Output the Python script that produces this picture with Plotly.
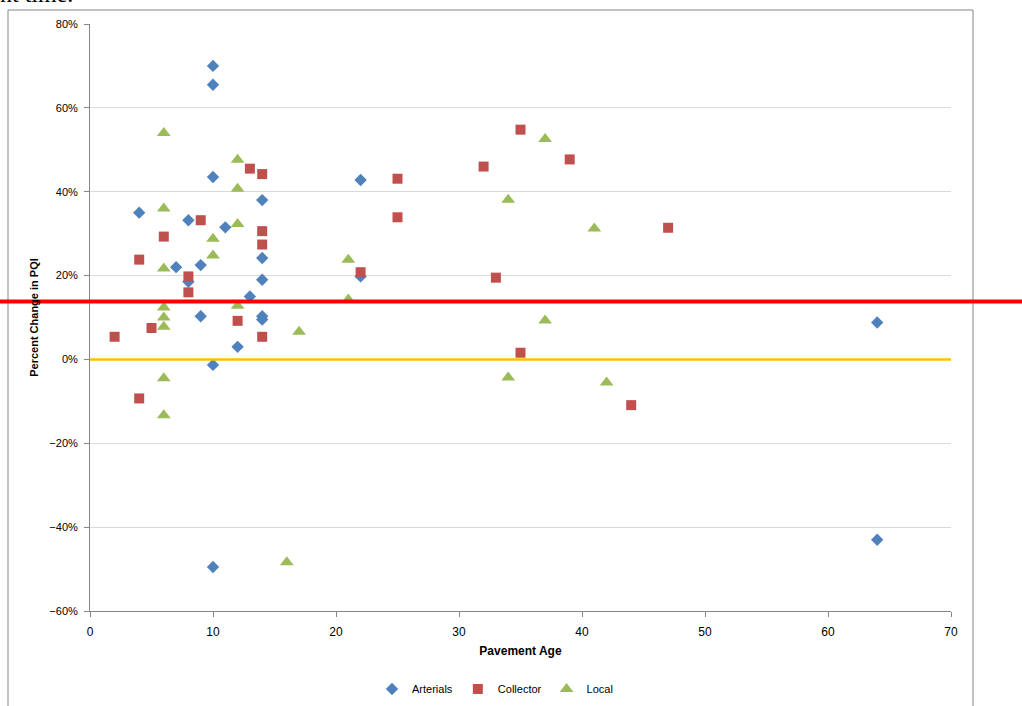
import plotly.graph_objects as go

# Arterials
art_x = [10, 10, 10, 4, 8, 11, 14, 7, 9, 8, 14, 14, 13, 9, 14, 14, 12, 10, 22, 22, 64, 64, 10]
art_y = [70, 65.5, 43.5, 35, 33.2, 31.5, 38, 22, 22.5, 18.5, 24.2, 19, 15, 10.3, 10.3, 9.5, 3, -1.3, 42.8, 19.8, 8.8, -43, -49.5]

# Collector
col_x = [2, 4, 4, 5, 6, 8, 8, 9, 12, 13, 14, 14, 14, 14, 22, 25, 25, 32, 33, 35, 35, 39, 44, 47]
col_y = [5.4, 23.8, -9.3, 7.5, 29.3, 19.8, 16, 33.2, 9.2, 45.5, 44.2, 30.6, 27.4, 5.4, 20.8, 43.1, 33.9, 46, 19.5, 54.8, 1.6, 47.7, -10.9, 31.4]

# Local
loc_x = [6, 6, 6, 6, 6, 6, 6, 6, 10, 10, 12, 12, 12, 12, 16, 17, 21, 21, 34, 34, 37, 37, 41, 42]
loc_y = [54, 36, 21.7, 12.4, 10, 7.8, -4.5, -13.3, 28.8, 24.8, 47.6, 40.7, 32.3, 12.8, -48.4, 6.6, 23.8, 14.3, 38.1, -4.3, 52.6, 9.3, 31.2, -5.5]

red_line_value = 13.8

fig = go.Figure()
fig.add_trace(go.Scatter(x=art_x, y=art_y, mode="markers", name="Arterials",
                         marker=dict(symbol="diamond", size=9.5, color="#4F81BD")))
fig.add_trace(go.Scatter(x=col_x, y=col_y, mode="markers", name="Collector",
                         marker=dict(symbol="square", size=10, color="#C0504D")))
fig.add_trace(go.Scatter(x=loc_x, y=loc_y, mode="markers", name="Local",
                         marker=dict(symbol="triangle-up", size=12, color="#9BBB59")))

L, R, T, B = 90, 71, 24, 95
W, H = 1022, 706
pw, ph = W - L - R, H - T - B

def px_x(p):
    return (p - L) / pw

def px_y(p):
    return 1 - (p - T) / ph

# Outer chart border
fig.add_shape(type="rect", xref="paper", yref="paper",
              x0=px_x(8), x1=px_x(973), y0=px_y(720), y1=px_y(10),
              line=dict(color="#868686", width=1), layer="below")
# zero line
fig.add_shape(type="line", xref="x", yref="y", x0=0, x1=70, y0=0, y1=0,
              line=dict(color="#FFC000", width=2.5))
# red overlay line
fig.add_shape(type="line", xref="paper", yref="y", x0=px_x(0), x1=px_x(1022),
              y0=red_line_value, y1=red_line_value,
              line=dict(color="#FF0000", width=4))

fig.add_annotation(text="nt time.", xref="paper", yref="paper", x=px_x(-2), y=px_y(-6),
                   xanchor="left", yanchor="middle", showarrow=False,
                   font=dict(family="Liberation Serif, serif", size=24, color="#000"))

font_fam = "Liberation Sans Narrow, Arial Narrow, Liberation Sans, sans-serif"
fig.update_layout(
    width=W, height=H,
    margin=dict(l=L, r=R, t=T, b=B, autoexpand=False),
    paper_bgcolor="white", plot_bgcolor="white",
    font=dict(family=font_fam, size=11, color="#000"),
    showlegend=True,
    legend=dict(orientation="h", x=px_x(495), xanchor="center", y=px_y(689), yanchor="middle",
                font=dict(size=11), itemwidth=30, tracegroupgap=0),
    xaxis=dict(range=[0, 70], dtick=10, showgrid=False, zeroline=False,
               showline=True, linecolor="#868686", linewidth=1,
               ticks="outside", ticklen=5, tickcolor="#868686",
               tickfont=dict(size=12), ticklabelstandoff=5, automargin=False,
               title=dict(text="<b>Pavement Age</b>", font=dict(size=12), standoff=8)),
    yaxis=dict(range=[-60, 80], dtick=20, ticksuffix="%", showgrid=True, gridcolor="#D9D9D9",
               zeroline=False, showline=True, linecolor="#868686", linewidth=1,
               ticks="outside", ticklen=5, tickcolor="#868686",
               tickfont=dict(size=11), ticklabelstandoff=4, automargin=False,
               title=dict(text="<b>Percent Change in PQI</b>", font=dict(size=11), standoff=8)),
)

fig.write_html("out.html", config={"displayModeBar": False},
               post_script="document.body.style.margin='0';document.body.style.overflow='hidden';")
